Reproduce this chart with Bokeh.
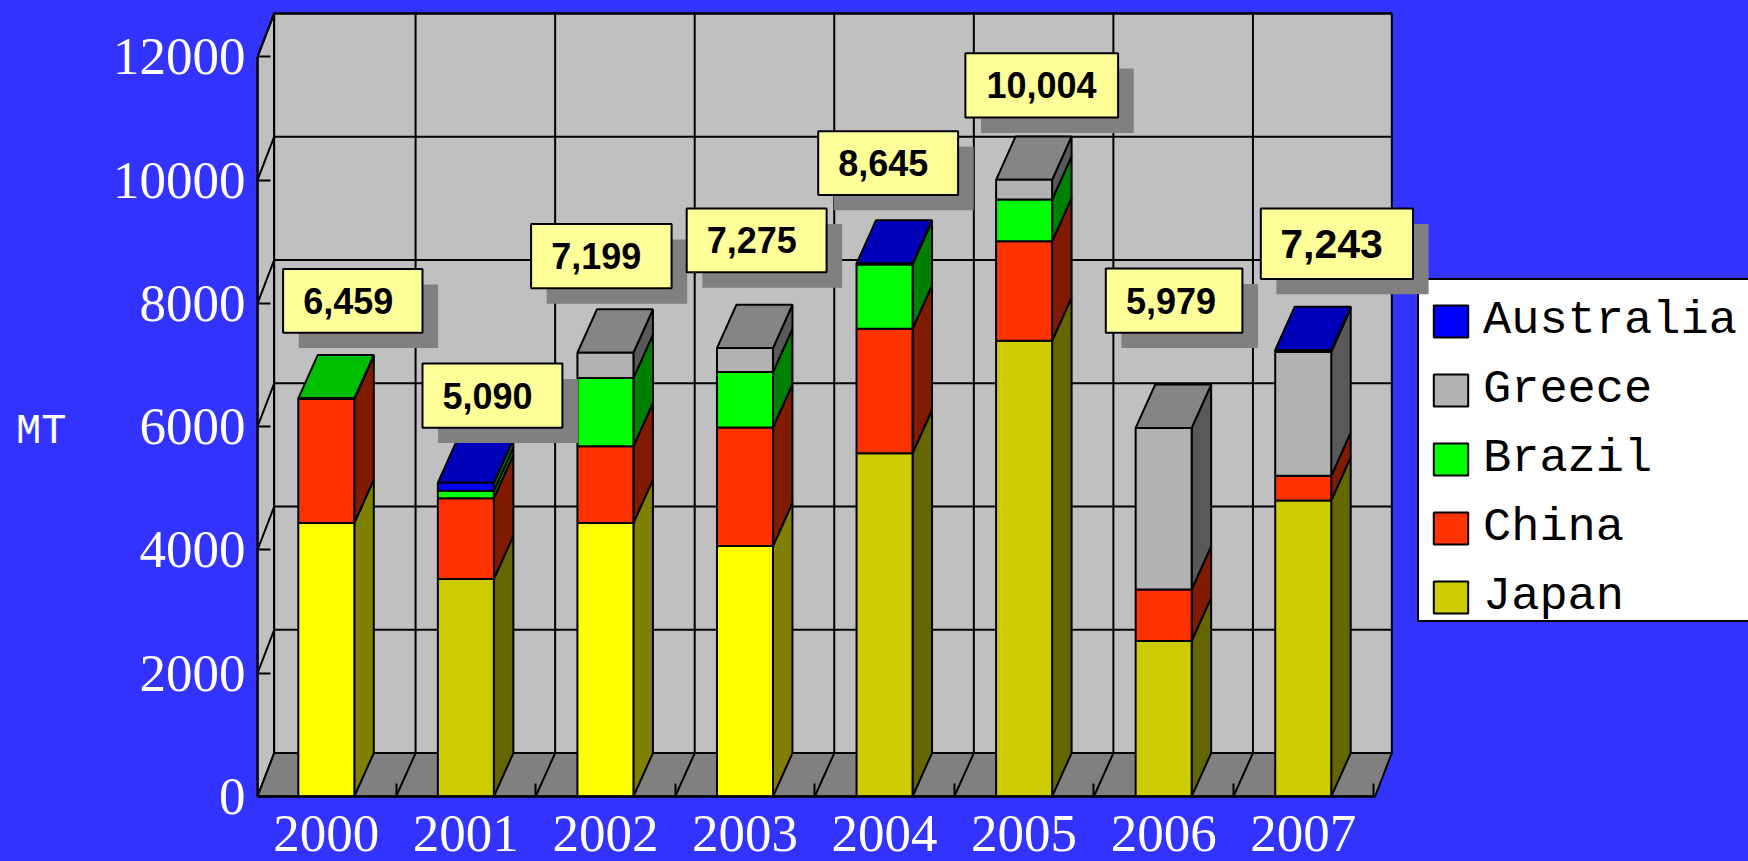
from bokeh.plotting import figure
from bokeh.models import ColumnDataSource, FixedTicker, Legend, LegendItem, LinearAxis, Range1d, NumeralTickFormatter
from bokeh.core.properties import value
from bokeh.embed import file_html
from bokeh.resources import INLINE

# ---------- data ----------
years = [2000, 2001, 2002, 2003, 2004, 2005, 2006, 2007]
japan = [4436, 3528, 4436, 4062, 5568, 7394, 2521, 4801]
china = [2013, 1310, 1247, 1924, 2022, 1612, 837, 401]
brazil = [10, 122, 1105, 900, 1042, 677, 0, 0]
greece = [0, 0, 411, 389, 0, 321, 2621, 2013]
australia = [0, 130, 0, 0, 13, 0, 0, 28]
totals = ["6,459", "5,090", "7,199", "7,275", "8,645", "10,004", "5,979", "7,243"]
y_ticks = [0, 2000, 4000, 6000, 8000, 10000, 12000]

# ---------- page geometry ----------
W, H = 1748, 861
BASE_PX = 796            # pixel row of value 0
LEFT_PX = 257            # pixel column of the front-left corner
PX_PER_YEAR = 139.56
UNITS_PER_PX = 12000 / (796.3 - 56.6)
FIRST_BAR_PX = 325.8
X0 = 2000 - (FIRST_BAR_PX - LEFT_PX) / PX_PER_YEAR


def X(px):
    return X0 + (px - LEFT_PX) / PX_PER_YEAR


def Y(py):
    return (BASE_PX - py) * UNITS_PER_PX


DX = 19.5 / PX_PER_YEAR
DY = 43.4 * UNITS_PER_PX
HALF = 28 / PX_PER_YEAR
BG = "#3333FF"
LW = 2

p = figure(width=W, height=H, output_backend="svg", toolbar_location=None,
           x_range=Range1d(X0, X(W)), y_range=Range1d(0, Y(0)),
           min_border_left=LEFT_PX, min_border_right=0, min_border_top=0,
           min_border_bottom=H - BASE_PX,
           background_fill_color=None, border_fill_color=None, outline_line_color=None)
p.stylesheets = [":host{position:fixed !important;left:0;top:0;background:%s}" % BG]
p.grid.visible = False

# ---------- walls and floor ----------
wl_f, wl_b = X(257), X(273.7)
wr_f, wr_b = X(1374.6), X(1391.3)
top = y_ticks[-1]
p.patch([wl_f, wl_b, wl_b, wl_f], [0, DY, top + DY, top], fill_color="#C0C0C0", line_color="black", line_width=LW)
p.patch([wl_b, wr_b, wr_b, wl_b], [DY, DY, top + DY, top + DY], fill_color="#C0C0C0", line_color="black", line_width=LW)
p.patch([wl_f, wr_f, wr_b, wl_b], [0, 0, DY, DY], fill_color="#808080", line_color="black", line_width=LW)
for v in y_ticks[1:]:
    p.line([wl_f, wl_b, wr_b], [v, v + DY, v + DY], line_color="black", line_width=LW)
for y in years[:-1]:
    b = y + 0.5
    p.line([b, b + DX, b + DX], [0, DY, top + DY], line_color="black", line_width=LW)

# ---------- bars ----------
series = [
    ("Japan", japan, "#CCCC00", "#666600", "#999900"),
    ("China", china, "#FF3300", "#801A00", "#BF2600"),
    ("Brazil", brazil, "#00FF00", "#008000", "#00BF00"),
    ("Greece", greece, "#B2B2B2", "#595959", "#858585"),
    ("Australia", australia, "#0000FF", "#595959", "#0000BB"),
]
bright_years = [2000, 2002, 2003]
base = [0] * len(years)
renderers = {}
fronts = []
tops = {}
for name, vals, col, side, topc in series:
    rows = [i for i, v in enumerate(vals) if v > 0]
    src = dict(left=[], right=[], bottom=[], top=[], color=[])
    sx, sy, sc = [], [], []
    for i in rows:
        y0, y1 = base[i], base[i] + vals[i]
        r = years[i] + HALF
        s = side
        c = col
        if name == "Japan" and years[i] in bright_years:
            c, s = "#FFFF00", "#808000"
        if name == "Australia" and years[i] == 2001:
            s = "#008000"
        src["left"].append(years[i] - HALF)
        src["right"].append(r)
        src["bottom"].append(y0)
        src["top"].append(y1)
        src["color"].append(c)
        sx.append([r, r + DX, r + DX, r])
        sy.append([y0, y0 + DY, y1 + DY, y1])
        sc.append(s)
        tops[i] = (y1, topc)
        base[i] = y1
    p.patches(sx, sy, fill_color=sc, line_color="black", line_width=LW)
    fronts.append((name, src))

tx, ty, tc = [], [], []
for i, (y1, c) in tops.items():
    l, r = years[i] - HALF, years[i] + HALF
    tx.append([l, r, r + DX, l + DX])
    ty.append([y1, y1, y1 + DY, y1 + DY])
    tc.append(c)
p.patches(tx, ty, fill_color=tc, line_color="black", line_width=LW)

for name, src in fronts:
    renderers[name] = p.quad(source=ColumnDataSource(src), left="left", right="right", bottom="bottom", top="top",
                             fill_color="color", line_color="black", line_width=LW)

# ---------- legend ----------
p.quad(left=[X(1417.5)], right=[X(W + 4)], top=[Y(278.4)], bottom=[Y(620.5)],
       fill_color="white", line_color="black", line_width=LW)
legend_order = ["Australia", "Greece", "Brazil", "China", "Japan"]
items = [LegendItem(label=n, renderers=[renderers[n]], index=1 if n == "Japan" else 0) for n in legend_order]
leg = Legend(items=items, location=(1429 - LEFT_PX, BASE_PX - 623), padding=0, margin=0, spacing=16,
             glyph_width=43, glyph_height=40, label_height=34, label_standoff=11,
             label_text_font="Liberation Mono", label_text_font_size="47px", label_text_color="black",
             background_fill_alpha=0, border_line_color=None)
p.add_layout(leg)

# ---------- call-outs (left, right, top, bottom in pixels, text left, font size) ----------
box_left = [282.6, 422, 530.6, 686.2, 817.7, 964.9, 1105.3, 1260.3]
box_right = [422, 561.9, 671.1, 826.1, 957.6, 1117.6, 1241.9, 1412.5]
box_top = [268.5, 363, 223.5, 208.1, 130.7, 52.7, 268, 208.1]
box_bottom = [332.2, 427.2, 287.8, 271.8, 194.4, 117, 332.2, 278.4]
text_left = [302.7, 442, 550.7, 706.2, 837.8, 986, 1125.4, 1279.8]
text_size = ["36px"] * 7 + ["41px"]
SHADOW_X, SHADOW_Y = 15.6, 15.4

p.quad(left=[X(v + SHADOW_X) for v in box_left], right=[X(v + SHADOW_X) for v in box_right],
       top=[Y(v + SHADOW_Y) for v in box_top], bottom=[Y(v + SHADOW_Y) for v in box_bottom],
       fill_color="#808080", line_color=None, level="overlay")
p.quad(left=[X(v) for v in box_left], right=[X(v) for v in box_right],
       top=[Y(v) for v in box_top], bottom=[Y(v) for v in box_bottom],
       fill_color="#FFFF99", line_color="black", line_width=LW, level="overlay")
p.text(x=[X(v) for v in text_left], y=[Y((a + b) / 2) for a, b in zip(box_top, box_bottom)], text=totals,
       text_font=value("Liberation Sans"), text_font_style="bold", text_font_size=text_size,
       text_color="black", text_align="left", text_baseline="middle", level="overlay")

# ---------- axes ----------
ax = p.xaxis[0]
ax.ticker = FixedTicker(ticks=years, minor_ticks=[y + 0.5 for y in years])
ax.formatter = NumeralTickFormatter(format="0")
ax.bounds = (wl_f, wr_f)
ax.axis_line_color = "black"
ax.axis_line_width = 2.4
ax.major_tick_line_color = None
ax.major_tick_in = 0
ax.major_tick_out = 0
ax.minor_tick_line_color = "black"
ax.minor_tick_line_width = LW
ax.minor_tick_in = 13
ax.minor_tick_out = 0
ax.major_label_standoff = 19
ax.major_label_text_font = "Liberation Serif"
ax.major_label_text_font_size = "53px"
ax.major_label_text_color = "white"

ay = p.yaxis[0]
ay.ticker = FixedTicker(ticks=y_ticks)
ay.formatter = NumeralTickFormatter(format="0")
ay.bounds = (0, top)
ay.axis_line_color = "black"
ay.axis_line_width = 2.4
ay.major_tick_line_color = "black"
ay.major_tick_line_width = LW
ay.major_tick_in = 13
ay.major_tick_out = 0
ay.minor_tick_line_color = None
ay.major_label_standoff = 12
ay.major_label_text_font = "Liberation Serif"
ay.major_label_text_font_size = "53px"
ay.major_label_text_color = "white"

# the unit label sits further left, as the one label of a second axis
mt_tick = round(Y(431))
mt = LinearAxis(ticker=FixedTicker(ticks=[mt_tick]), major_label_overrides={mt_tick: "MT"},
                axis_line_color=None, major_tick_line_color=None, minor_tick_line_color=None,
                major_tick_in=0, major_tick_out=0, minor_tick_in=0, minor_tick_out=0,
                major_label_standoff=43, major_label_text_font="Liberation Mono",
                major_label_text_font_size="42px", major_label_text_color="white")
p.add_layout(mt, "left")

open("out.html", "w").write(file_html(p, INLINE))
